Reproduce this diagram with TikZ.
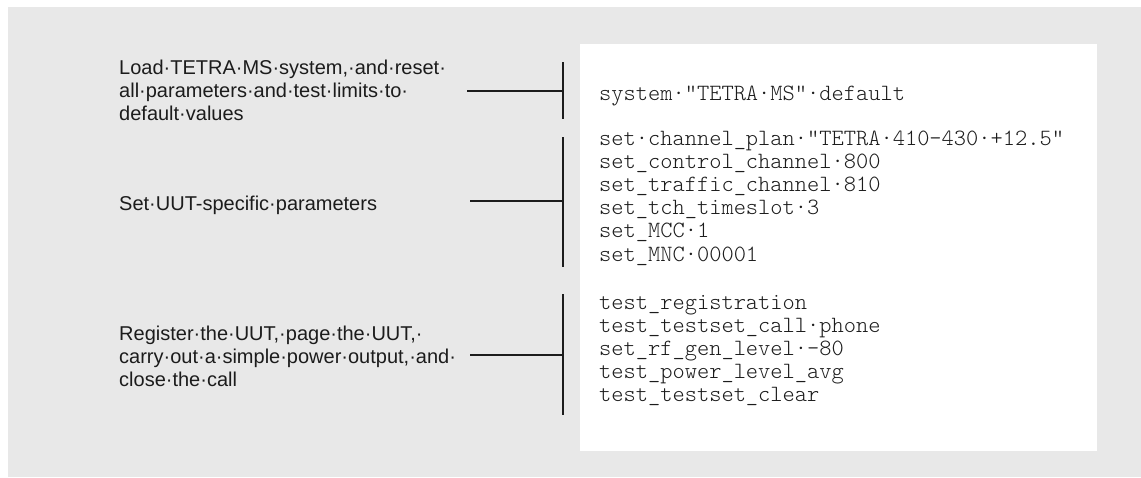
\documentclass[tikz,border=0pt]{standalone}
\usepackage{fontspec}
\setmainfont{Liberation Sans}
\newfontfamily\codefont{Latin Modern Mono Light}
\definecolor{bggray}{HTML}{E8E8E8}
\definecolor{ink}{HTML}{1C1C1C}
\begin{document}
\begin{tikzpicture}[x=1pt,y=-1pt,
  desc/.style={anchor=west,inner sep=0pt,align=left,text=ink,
    font=\fontsize{20}{23}\selectfont},
  code/.style={anchor=west,inner sep=0pt,align=left,text=ink,
    font=\codefont\fontsize{23.3}{23.2}\selectfont},
  bracket/.style={draw=ink,line width=1.3pt},
  link/.style={draw=ink,line width=1.3pt}]
\useasboundingbox (0,0) rectangle (1141,477);
\fill[white] (0,0) rectangle (1141,477);
\fill[bggray] (8,7) rectangle (1141,477);
\fill[white] (580,44) rectangle (1097,451);

% descriptions
\node[desc] (d1) at (119,90) {Load·TETRA·MS·system,·and·reset·\\all·parameters·and·test·limits·to·\\default·values};
\node[desc] (d2) at (119,205) {Set·UUT-specific·parameters};
\node[desc] (d3) at (119,356) {Register·the·UUT,·page·the·UUT,·\\carry·out·a·simple·power·output,·and·\\close·the·call};

% code
\node[code] (c1) at (599,95.5) {system·"TETRA·MS"·default};
\node[code] (c2) at (599,198) {set·channel\_plan·"TETRA·410-430·+12.5"\\set\_control\_channel·800\\set\_traffic\_channel·810\\set\_tch\_timeslot·3\\set\_MCC·1\\set\_MNC·00001};
\node[code] (c3) at (599,350.5) {test\_registration\\test\_testset\_call·phone\\set\_rf\_gen\_level·-80\\test\_power\_level\_avg\\test\_testset\_clear};

% brackets
\coordinate (b1t) at (563,62);  \coordinate (b1b) at (563,119);
\coordinate (b2t) at (563,137); \coordinate (b2b) at (563,267);
\coordinate (b3t) at (563,294); \coordinate (b3b) at (563,415);
\draw[bracket] (b1t) -- (b1b);
\draw[bracket] (b2t) -- (b2b);
\draw[bracket] (b3t) -- (b3b);

% connectors
\coordinate (h1) at (467,91);  \coordinate (m1) at (563,91);
\coordinate (h2) at (470,201); \coordinate (m2) at (563,201);
\coordinate (h3) at (470,355); \coordinate (m3) at (563,355);
\draw[link] (h1) -- (m1);
\draw[link] (h2) -- (m2);
\draw[link] (h3) -- (m3);
\end{tikzpicture}
\end{document}
